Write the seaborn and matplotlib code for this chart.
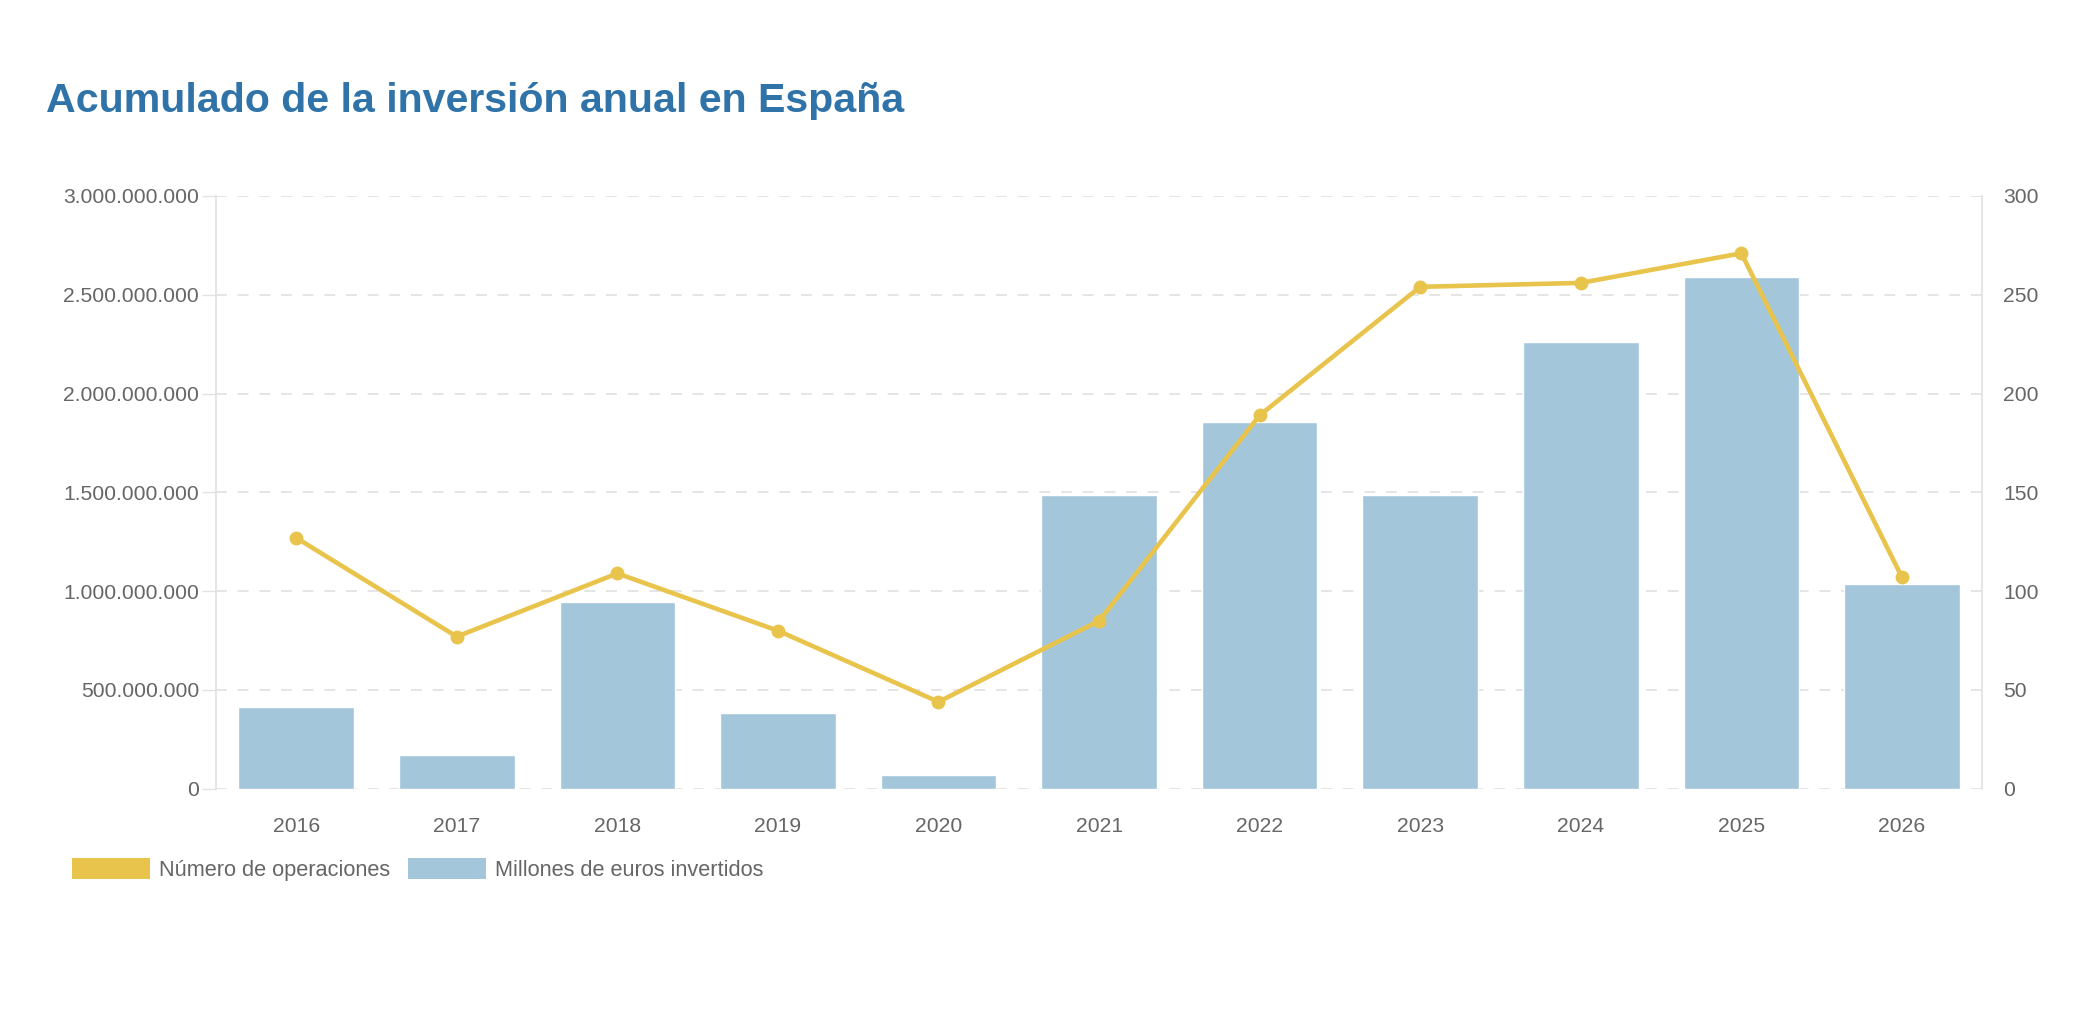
import matplotlib as mpl
from matplotlib import pyplot as plt
from matplotlib.patches import Patch
import pandas as pd
import seaborn as sns

years = ["2016", "2017", "2018", "2019", "2020", "2021",
         "2022", "2023", "2024", "2025", "2026"]
euros_invertidos = [412e6, 170e6, 945e6, 385e6, 70e6, 1485e6,
                    1855e6, 1485e6, 2262e6, 2590e6, 1036e6]
num_operaciones = [127, 77, 109, 80, 44, 85, 189, 254, 256, 271, 107]

left_ticks = [0, 500e6, 1000e6, 1500e6, 2000e6, 2500e6, 3000e6]
right_ticks = [0, 50, 100, 150, 200, 250, 300]

bar_color = "#a3c6da"
line_color = "#e9c44c"
text_color = "#666666"
grid_color = "#e3e3e3"

sns.set_theme(style="white")
plt.rcParams["font.family"] = ["Liberation Sans", "DejaVu Sans"]

df = pd.DataFrame({
    "year": years,
    "euros": euros_invertidos,
    "ops": num_operaciones,
})

fig = plt.figure(figsize=(20.8, 10.1), dpi=100)
ax = fig.add_axes([0.1038, 0.219, 0.953 - 0.1038, 0.806 - 0.219])

sns.barplot(data=df, x="year", y="euros", color=bar_color, width=0.72,
            saturation=1, ax=ax)
ax.set_ylim(0, 3e9)
ax.set_yticks(left_ticks)
ax.yaxis.set_major_formatter(
    mpl.ticker.FuncFormatter(lambda v, _: f"{int(v):,}".replace(",", "."))
)
ax.set_xlabel("")
ax.set_ylabel("")
ax.set_axisbelow(True)
ax.grid(axis="y", color=grid_color, linestyle=(0, (6, 6)), linewidth=1.3)
ax.tick_params(axis="y", length=10, width=1, color=grid_color, pad=2,
               labelsize=15.2, labelcolor=text_color)
ax.tick_params(axis="x", length=0, pad=20, labelsize=15.2,
               labelcolor=text_color)
for side in ["top", "bottom"]:
    ax.spines[side].set_visible(False)
for side in ["left", "right"]:
    ax.spines[side].set_color(grid_color)
    ax.spines[side].set_linewidth(1.3)

ax2 = ax.twinx()
sns.pointplot(data=df, x="year", y="ops", color=line_color, markers="o",
              markersize=7.5, linewidth=3.3, ax=ax2)
ax2.set_ylim(0, 300)
ax2.set_yticks(right_ticks)
ax2.set_ylabel("")
ax2.set_xlabel("")
ax2.tick_params(axis="y", length=0, pad=15, labelsize=15.2,
                labelcolor=text_color)
for side in ["top", "bottom", "left", "right"]:
    ax2.spines[side].set_visible(False)
ax.set_xlim(-0.5, len(years) - 0.5)

fig.text(0.022, 0.9, "Acumulado de la inversión anual en España",
         fontsize=29.6, fontweight="bold", color="#2f73a8",
         ha="left", va="center")

handles = [
    Patch(facecolor=line_color, edgecolor="none", label="Número de operaciones"),
    Patch(facecolor=bar_color, edgecolor="none",
          label="Millones de euros invertidos"),
]
fig.legend(handles=handles, loc="center left", bbox_to_anchor=(0.0346, 0.139),
           ncol=2, frameon=False, fontsize=15.7, labelcolor=text_color,
           handlelength=3.6, handleheight=1.1, handletextpad=0.4,
           columnspacing=0.8, borderpad=0, borderaxespad=0)

fig.savefig("out.png", dpi=100, facecolor="white")
